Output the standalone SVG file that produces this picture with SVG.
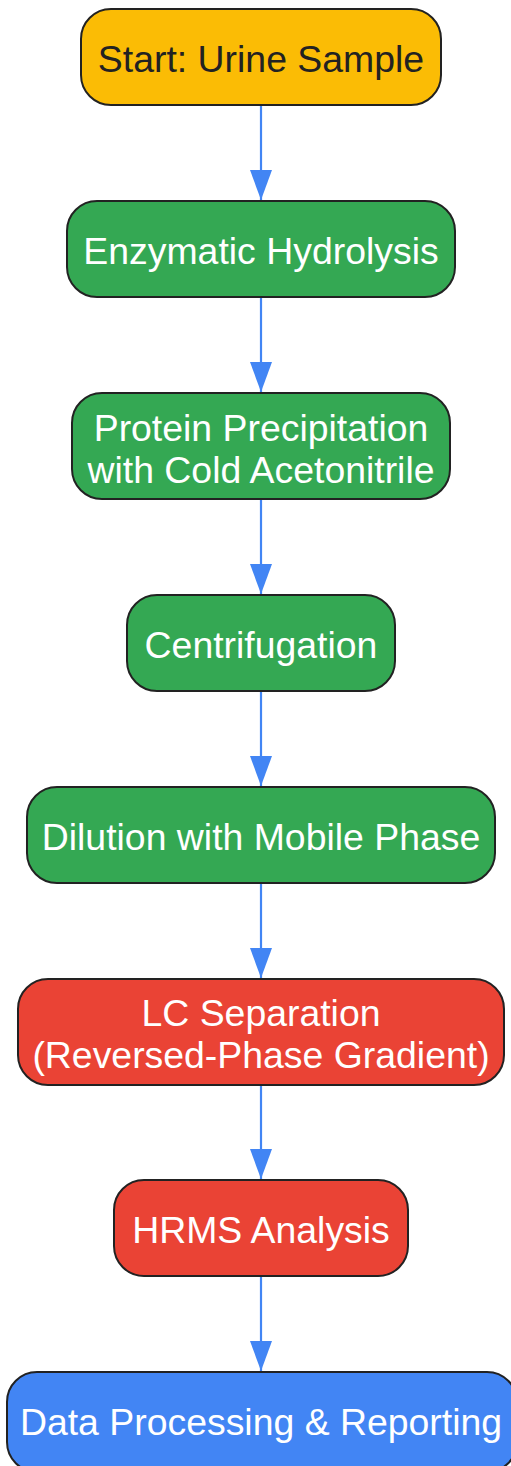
<svg xmlns="http://www.w3.org/2000/svg" width="511" height="1466" viewBox="0 0 511 1466">
<defs>
<style>
.n{stroke:#222;stroke-width:2}
.t{font-family:"Liberation Sans",Arial,sans-serif;font-size:37.4px;text-anchor:middle;fill:#fff}
.e{stroke:#4285F4;stroke-width:2.2;fill:none}
</style>
<marker id="ah" markerWidth="30" markerHeight="22" refX="30" refY="11" orient="auto" markerUnits="userSpaceOnUse" viewBox="0 0 30 22">
<path d="M0,0 L30,11 L0,22 Z" fill="#4285F4"/>
</marker>
</defs>
<rect width="511" height="1466" fill="#fff"/>
<g id="connectors">
<line class="e" x1="261" y1="105" x2="261" y2="200" marker-end="url(#ah)"/>
<line class="e" x1="261" y1="297" x2="261" y2="392" marker-end="url(#ah)"/>
<line class="e" x1="261" y1="499" x2="261" y2="594" marker-end="url(#ah)"/>
<line class="e" x1="261" y1="691" x2="261" y2="786" marker-end="url(#ah)"/>
<line class="e" x1="261" y1="883" x2="261" y2="978" marker-end="url(#ah)"/>
<line class="e" x1="261" y1="1085" x2="261" y2="1179" marker-end="url(#ah)"/>
<line class="e" x1="261" y1="1276" x2="261" y2="1371" marker-end="url(#ah)"/>
</g>
<g id="start">
<rect class="n" x="81" y="9" width="360" height="96" rx="30" fill="#FBBC05"/>
<text class="t" x="261" y="72" style="fill:#222">Start: Urine Sample</text>
</g>
<g id="hydrolysis">
<rect class="n" x="67" y="201" width="388" height="96" rx="30" fill="#34A853"/>
<text class="t" x="261" y="264">Enzymatic Hydrolysis</text>
</g>
<g id="precipitation">
<rect class="n" x="72" y="393" width="378" height="106" rx="30" fill="#34A853"/>
<text class="t" x="261" y="441">Protein Precipitation</text>
<text class="t" x="261" y="483">with Cold Acetonitrile</text>
</g>
<g id="centrifugation">
<rect class="n" x="127" y="595" width="268" height="96" rx="30" fill="#34A853"/>
<text class="t" x="261" y="658">Centrifugation</text>
</g>
<g id="dilution">
<rect class="n" x="27" y="787" width="468" height="96" rx="30" fill="#34A853"/>
<text class="t" x="261" y="850">Dilution with Mobile Phase</text>
</g>
<g id="lc">
<rect class="n" x="18" y="979" width="486" height="106" rx="30" fill="#EA4335"/>
<text class="t" x="261" y="1026">LC Separation</text>
<text class="t" x="261" y="1068">(Reversed-Phase Gradient)</text>
</g>
<g id="hrms">
<rect class="n" x="114" y="1180" width="294" height="96" rx="30" fill="#EA4335"/>
<text class="t" x="261" y="1243">HRMS Analysis</text>
</g>
<g id="data">
<rect class="n" x="7" y="1372" width="510" height="100" rx="30" fill="#4285F4"/>
<text class="t" x="261" y="1435">Data Processing &amp; Reporting</text>
</g>
</svg>
